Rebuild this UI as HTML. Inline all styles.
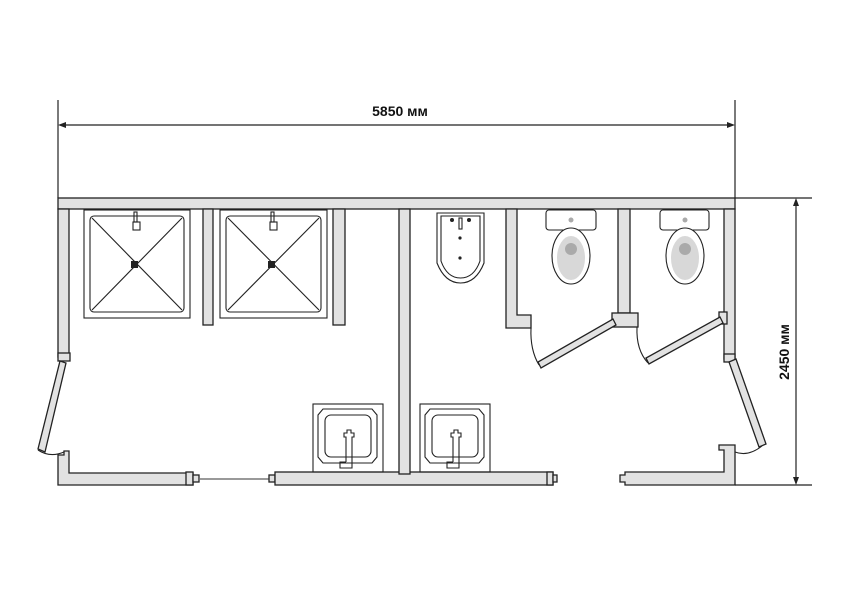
<!DOCTYPE html>
<html><head><meta charset="utf-8"><style>html,body{margin:0;padding:0;background:#fff}</style></head><body>
<svg width="848" height="600" viewBox="0 0 848 600" xmlns="http://www.w3.org/2000/svg" font-family="Liberation Sans, sans-serif">
<rect width="848" height="600" fill="#fff"/>
<g stroke="#222" stroke-width="1.2" fill="none">
<line x1="58" y1="100" x2="58" y2="198"/>
<line x1="735" y1="100" x2="735" y2="198"/>
<line x1="62" y1="125" x2="731" y2="125"/>
<line x1="735" y1="198" x2="812" y2="198"/>
<line x1="735" y1="485" x2="812" y2="485"/>
<line x1="796" y1="202" x2="796" y2="481"/>
</g>
<g fill="#222">
<polygon points="58,125 66,122 66,128"/><polygon points="735,125 727,122 727,128"/>
<polygon points="796,198 793,206 799,206"/><polygon points="796,485 793,477 799,477"/>
</g>
<text x="400" y="116" font-size="14" font-weight="bold" text-anchor="middle" fill="#111">5850 мм</text>
<text transform="translate(789,352) rotate(-90)" font-size="14" font-weight="bold" text-anchor="middle" fill="#111">2450 мм</text>

<g fill="#e2e2e2" stroke="#222" stroke-width="1.3">
<rect x="58" y="198" width="677" height="11"/>
<rect x="58" y="209" width="11" height="148"/>
<rect x="58" y="353" width="12" height="8"/>
<polygon points="60,361 66,363 45,452 38,449"/>
<path d="M58,455 h6 v-4 h5 v22 h124 v12 h-135 z"/>
<rect x="186" y="472" width="7" height="13"/>
<rect x="193" y="475" width="6" height="7"/>
<rect x="269" y="475" width="6" height="7"/>
<rect x="275" y="472" width="278" height="13"/>
<rect x="547" y="472" width="6" height="13"/>
<rect x="553" y="475" width="4" height="7"/>
<path d="M620,475 h5 v-3 h99 v-22 h-5 v-5 h16 v40 h-110 v-3 h-5 z"/>
<rect x="724" y="209" width="11" height="150"/>
<rect x="719" y="312" width="8" height="12"/>
<rect x="724" y="354" width="11" height="8"/>
<polygon points="729,362 736,359 766,444 759,447"/>
<rect x="399" y="209" width="11" height="265"/>
<rect x="203" y="209" width="10" height="116"/>
<rect x="333" y="209" width="12" height="116"/>
<path d="M506,209 h11 v106 h14 v13 h-25 z"/>
<rect x="618" y="209" width="12" height="104"/>
<rect x="612" y="313" width="26" height="14"/>
<polygon points="613,319 616,325 541,368 538,362"/>
<polygon points="720,317 723,323 649,364 646,358"/>
</g>
<line x1="200" y1="479" x2="269" y2="479" stroke="#333" stroke-width="1"/>
<g fill="none" stroke="#222" stroke-width="1.1">
<path d="M38,450 Q50,458 64,452"/>
<path d="M531,328 Q530,350 539,365"/>
<path d="M637,327 Q636,350 648,363"/>
<path d="M762,446 Q748,457 735,452"/>
<rect x="84" y="210" width="106" height="108"/>
<rect x="90" y="216" width="94" height="96" rx="4"/>
<line x1="92" y1="218" x2="182" y2="310"/><line x1="182" y1="218" x2="92" y2="310"/>
<rect x="134" y="212" width="3" height="10"/><rect x="133" y="222" width="7" height="8"/>
<rect x="220" y="210" width="107" height="108"/>
<rect x="226" y="216" width="95" height="96" rx="4"/>
<line x1="228" y1="218" x2="319" y2="310"/><line x1="319" y1="218" x2="228" y2="310"/>
<rect x="271" y="212" width="3" height="10"/><rect x="270" y="222" width="7" height="8"/>
<rect x="313" y="404" width="70" height="68"/>
<polygon points="323,409 372,409 377,415 377,457 372,463 323,463 318,457 318,415"/>
<rect x="325" y="415" width="46" height="42" rx="6"/>
<path d="M346,462 v-25 h-2 v-4 h3 v-3 h4 v3 h3 v4 h-2 v25 M346,462 h-6 v6 h12 v-6"/>
<rect x="420" y="404" width="70" height="68"/>
<polygon points="430,409 479,409 484,415 484,457 479,463 430,463 425,457 425,415"/>
<rect x="432" y="415" width="46" height="42" rx="6"/>
<path d="M453,462 v-25 h-2 v-4 h3 v-3 h4 v3 h3 v4 h-2 v25 M453,462 h-6 v6 h12 v-6"/>
<path d="M437,213 h47 v50 q-8,20 -23.5,20 q-15.5,0 -23.5,-20 z"/>
<path d="M441,216 h39 v45 q-6,17 -19.5,17 q-13.5,0 -19.5,-17 z"/>
<rect x="459" y="218" width="3" height="11"/>
</g>
<g fill="#222">
<rect x="131" y="261" width="7" height="7"/><rect x="268" y="261" width="7" height="7"/>
<circle cx="452" cy="220" r="2"/><circle cx="469" cy="220" r="2"/>
<circle cx="460" cy="238" r="1.6"/><circle cx="460" cy="258" r="1.6"/>
</g>
<g stroke="#222" stroke-width="1.1">
<rect x="546" y="210" width="50" height="20" rx="3" fill="#fff"/>
<ellipse cx="571" cy="256" rx="19" ry="28" fill="#fff"/>
<ellipse cx="571" cy="258" rx="14" ry="22" fill="#d8d8d8" stroke="none"/>
<rect x="660" y="210" width="49" height="20" rx="3" fill="#fff"/>
<ellipse cx="685" cy="256" rx="19" ry="28" fill="#fff"/>
<ellipse cx="685" cy="258" rx="14" ry="22" fill="#d8d8d8" stroke="none"/>
</g>
<g fill="#aaa"><circle cx="571" cy="220" r="2.5"/><circle cx="685" cy="220" r="2.5"/>
<circle cx="571" cy="249" r="6"/><circle cx="685" cy="249" r="6"/></g>
</svg>
</body></html>
